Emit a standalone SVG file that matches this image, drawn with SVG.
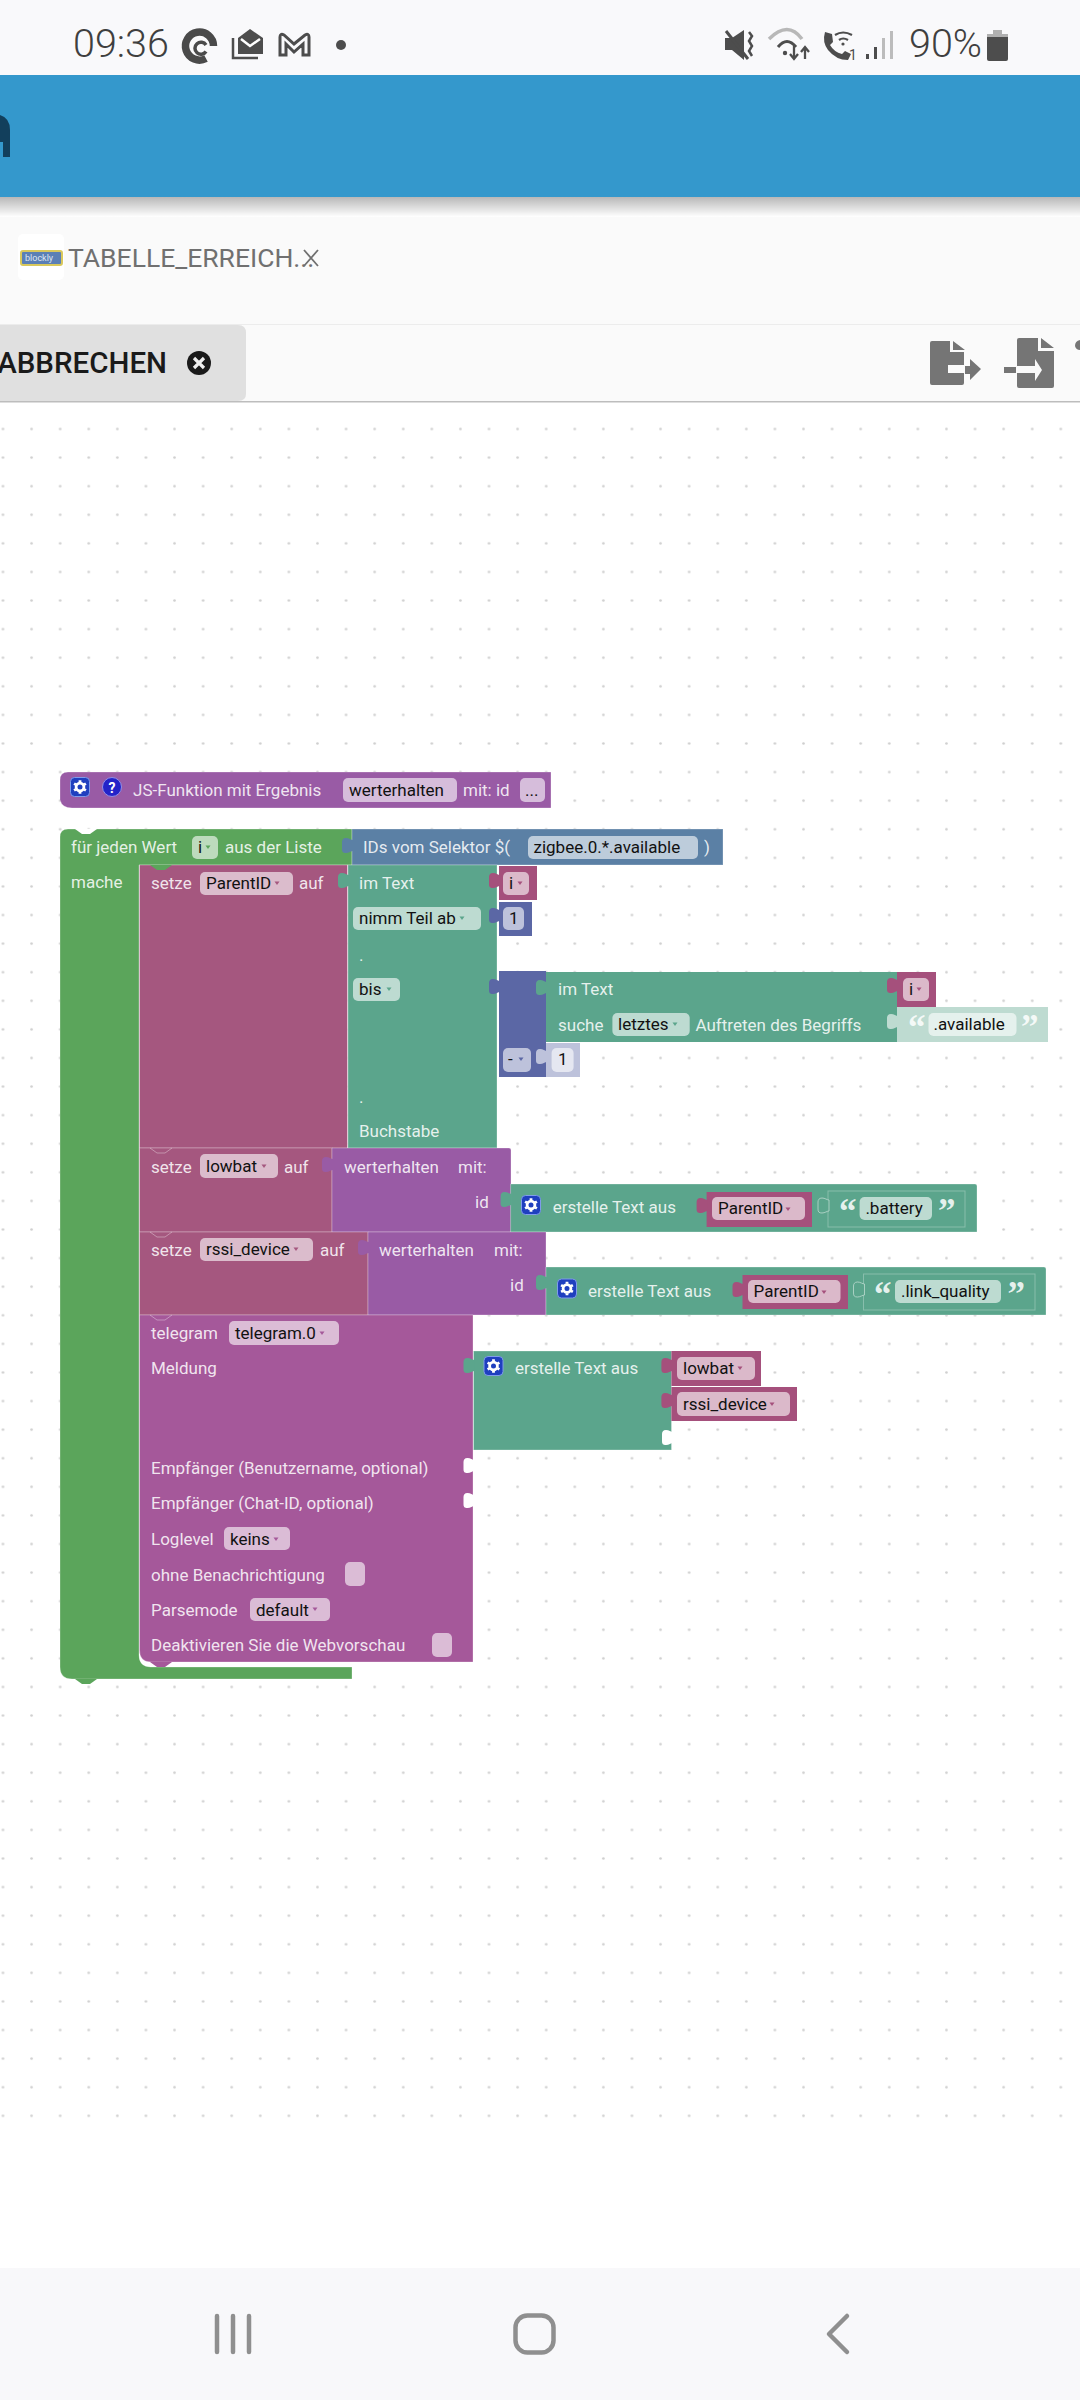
<svg xmlns="http://www.w3.org/2000/svg" width="1080" height="2400" viewBox="0 0 1080 2400">
<style>
text{font-family:Roboto,"Liberation Sans",sans-serif}
.t{font-size:17px;fill:#fff;fill-opacity:.86}
.v{font-size:17px;fill:#111}
.f{fill:#fff;fill-opacity:.6}
.b{stroke:#fff;stroke-opacity:.28;stroke-width:1}
.loop{fill:#5ba55b}.list{fill:#5b80a5}.var{fill:#a5577f}.proc{fill:#995ba5}.txt{fill:#5ba58c}.math{fill:#5b67a5}.tele{fill:#a5589a}.vr{fill:#a5507c}
.q{font-family:"Liberation Serif",serif;font-weight:700;font-size:35px;fill:#fff;fill-opacity:.85}
.ic{fill:#4d4d4d}
.cv{fill:none;stroke:#fff;stroke-opacity:.35;stroke-width:1}
.nav{fill:none;stroke:#8f8f8f;stroke-width:4.5;stroke-linecap:round;stroke-linejoin:round}
</style>
<defs>
<pattern id="grid" patternUnits="userSpaceOnUse" x="-11.3" y="414.7" width="28.59" height="28.59"><circle cx="14.295" cy="14.295" r="1.3" fill="#cfcfcf"/></pattern>
<path id="tab" d="M1 2C-1 2-3 0-6 0C-9 0-10 2-10 4V11C-10 14-9 15-6 15C-3 15-1 13 1 13Z"/>
<path id="dd" d="M-2.500-1.500H2.500L0 2Z"/>
<path id="nt" d="M0 0L7 5H15L22 0Z"/>
<g id="gear"><rect x="-9.500" y="-9.500" width="19" height="19" rx="4" fill="#1f3fbf" stroke="#7f9bea" stroke-width="1"/><circle r="3.900" fill="none" stroke="#fff" stroke-width="2.800"/><path d="M0-6.800V6.800M-5.900-3.400L5.900 3.400M-5.900 3.400L5.900-3.400" stroke="#fff" stroke-width="2.800" stroke-dasharray="2 9.600"/></g>
<linearGradient id="sh" x1="0" y1="0" x2="0" y2="1"><stop offset="0" stop-color="#000" stop-opacity=".28"/><stop offset="1" stop-color="#000" stop-opacity="0"/></linearGradient>
</defs>
<rect width="1080" height="2400" fill="#fff"/>
<rect y="405" width="1080" height="1720" fill="url(#grid)"/>

<g id="status-bar">
<rect width="1080" height="75" fill="#f9f9fb"/>
<text x="73" y="57" font-size="39.500" font-weight="300" fill="#3f3f3f">09:36</text>
<path d="M206 58.500A14 14 0 1 1 213.500 46" fill="none" stroke="#4a4a4a" stroke-width="7.500"/><path d="M206 51.500A6 6 0 1 1 206 45" fill="none" stroke="#4a4a4a" stroke-width="3.500"/>
<path class="ic" d="M238 38L250 29L263 38V54H238Z"/><path d="M241 39L250 46L260 39" fill="none" stroke="#fff" stroke-width="2.500"/><path d="M233 38V58H258" fill="none" stroke="#4d4d4d" stroke-width="2.500"/>
<path d="M280 55V37Q280 33 284 35L294 44L305 35Q309 33 309 37V55H303V44L294 52L286 44V55Z" fill="none" stroke="#4d4d4d" stroke-width="3"/>
<circle cx="341" cy="45" r="5" fill="#4d4d4d"/>
<path class="ic" d="M725 38H732L744 30V60L732 50H725Z"/><path d="M726 31L748 59" stroke="#4d4d4d" stroke-width="3"/><path d="M749 32L752 36L749 41L752 46L749 51L752 56" fill="none" stroke="#4d4d4d" stroke-width="2.500"/>
<path d="M769 39Q788 20 802 39" fill="none" stroke="#b8b8b8" stroke-width="3.500"/><path d="M778 47Q787 36 796 47" fill="none" stroke="#4d4d4d" stroke-width="3"/><circle cx="785" cy="53" r="2.200" fill="#4d4d4d"/><path d="M794 46V58M790 54L794 59L798 54M805 59V48M801 52L805 47L809 52" fill="none" stroke="#4d4d4d" stroke-width="2.300"/>
<path class="ic" d="M825 32L832 34L833 42L830 45Q834 52 842 54L845 51L851 54L848 60Q836 60 828 50Q822 42 825 32Z"/><path d="M835 35Q843 30 852 35M839 40Q843 37 848 40" fill="none" stroke="#4d4d4d" stroke-width="2.200"/><circle cx="843" cy="44" r="1.600" fill="#4d4d4d"/>
<text x="849" y="60" font-size="14" fill="#4d4d4d">1</text>
<rect x="866" y="54" width="3" height="5" fill="#4d4d4d"/><rect x="874" y="47" width="3" height="12" fill="#4d4d4d"/><rect x="882" y="38" width="3" height="21" fill="#bcbcbc"/><rect x="890" y="31" width="3" height="28" fill="#bcbcbc"/>
<text x="909" y="57" font-size="39.500" font-weight="300" fill="#3f3f3f">90%</text>
<path d="M993 30H1002V34H1008V37H987V34H993Z" fill="#b0b0b0"/><path class="ic" d="M987 37H1008V59Q1008 61 1006 61H989Q987 61 987 59Z"/>
</g>

<g id="app-header">
<rect y="75" width="1080" height="122" fill="#3498cc"/>
<rect y="197" width="1080" height="20" fill="url(#sh)"/>
<path d="M0 115Q10 118 10 130V157H3V142H0Z" fill="#123f5c"/>
</g>

<g id="tab-bar">
<rect y="217" width="1080" height="108" fill="#fafafa"/>
<rect x="18" y="234" width="46" height="46" rx="5" fill="#fff"/>
<rect x="21" y="251" width="41" height="14" rx="2" fill="#5b7fb5" stroke="#d9c85c" stroke-width="2"/>
<text x="25" y="261" font-size="9" fill="#dfe6f2">blockly</text>
<text x="68" y="267" font-size="26.500" fill="#707070">TABELLE_ERREICH...</text>
<path d="M304 250L318 266M318 250L304 266" stroke="#707070" stroke-width="1.800"/>
</g>

<g id="toolbar">
<rect y="325" width="1080" height="77" fill="#fafafa"/>
<rect y="324" width="1080" height="1" fill="#ececec"/>
<path d="M0 325H238Q246 325 246 333V394Q246 401 238 401H0Z" fill="#e0e0e0"/>
<rect y="401" width="1080" height="1.500" fill="#bdbdbd"/>
<text x="167" y="373" text-anchor="end" font-size="29.500" font-weight="500" fill="#1a1a1a">ABBRECHEN</text>
<circle cx="199" cy="363" r="12" fill="#1a1a1a"/><path d="M194 358L204 368M204 358L194 368" stroke="#eee" stroke-width="3.200"/>
<path fill="#757575" d="M932 341H950V352H964V365H948V373H964V383Q964 385 962 385H932Q930 385 930 383V343Q930 341 932 341ZM953 341L965 350H953ZM965 366H970V359L981 369L970 380V374H965Z"/>
<path fill="#757575" d="M1019 338H1038V351H1054V386Q1054 388 1052 388H1019Q1017 388 1017 386V373H1035V381L1042 370L1035 359V366H1017V340Q1017 338 1019 338ZM1041 338L1054 348H1041ZM1004 367H1016V373H1004Z"/>
<path d="M1080 340Q1075 341 1075 346Q1076 350 1080 350Z" fill="#757575"/>
</g>

<g id="block-js-function">
<path class="proc b" d="M68 772H551V808H72Q62 808 60 800V780Q60 772 68 772Z"/>
<use href="#gear" x="80" y="787"/>
<circle cx="112" cy="787" r="9.500" fill="#2323c8" stroke="#8f8fe8"/><text x="112" y="793" text-anchor="middle" font-size="14" font-weight="700" fill="#fff">?</text>
<text class="t" x="133" y="796">JS-Funktion mit Ergebnis</text>
<rect class="f" x="343" y="778" width="114" height="24" rx="5"/><text class="v" x="349" y="796">werterhalten</text>
<text class="t" x="463" y="796">mit: id</text>
<rect class="f" x="520" y="778" width="25" height="24" rx="5"/><text class="v" x="525" y="796">...</text>
</g>

<g id="block-for-each">
<path class="loop b" d="M68 829H352V865H139V1655Q139 1667 151 1667H352V1679H72Q60 1679 60 1667V837Q60 829 68 829Z"/>
<use href="#nt" x="75" y="829" fill="#fff"/>
<use href="#nt" x="75" y="1679" fill="#5ba55b"/>
<text class="t" x="71" y="853">für jeden Wert</text>
<rect class="f" x="192" y="836" width="26" height="23" rx="5"/><text class="v" x="198" y="853">i</text><use href="#dd" x="208" y="847" fill="#5ba55b"/>
<text class="t" x="225" y="853">aus der Liste</text>
<text class="t" x="71" y="888">mache</text>
</g>

<g id="block-selector">
<rect class="list b" x="352" y="829" width="371" height="36"/>
<text class="t" x="363" y="853">IDs vom Selektor $(</text>
<rect class="f" x="528" y="836" width="170" height="23" rx="5"/><text class="v" x="533.500" y="853">zigbee.0.*.available</text>
<text class="t" x="704" y="853">)</text>
</g>

<g id="block-set-parentid">
<rect class="var b" x="139.500" y="865" width="208" height="283"/>
<use href="#nt" x="150" y="865" fill="#5ba55b"/>
<text class="t" x="151" y="889">setze</text>
<rect class="f" x="200" y="872" width="93" height="23" rx="5"/><text class="v" x="206" y="889">ParentID</text><use href="#dd" x="277" y="883" fill="#a5577f"/>
<text class="t" x="299" y="889">auf</text>
</g>

<g id="block-substring">
<rect class="txt b" x="348" y="865" width="149" height="283"/>
<text class="t" x="359" y="889">im Text</text>
<rect class="f" x="353" y="907" width="128" height="23" rx="5"/><text class="v" x="359" y="924">nimm Teil ab</text><use href="#dd" x="462" y="918" fill="#5ba58c"/>
<text class="t" x="359" y="961">.</text>
<rect class="f" x="353" y="978" width="47" height="23" rx="5"/><text class="v" x="359" y="995">bis</text><use href="#dd" x="389" y="989" fill="#5ba58c"/>
<text class="t" x="359" y="1103">.</text>
<text class="t" x="359" y="1137">Buchstabe</text>
</g>

<g id="var-i-1">
<rect class="vr" x="499" y="866" width="38" height="34"/>
<rect class="f" x="503" y="872" width="26" height="23" rx="5"/><text class="v" x="509" y="889">i</text><use href="#dd" x="520" y="883" fill="#a5507c"/>
</g>
<g id="num-1">
<rect class="math" x="499" y="902" width="33" height="34"/>
<rect class="f" x="503" y="907" width="21" height="23" rx="5"/><text class="v" x="509" y="924">1</text>
</g>
<g id="block-minus">
<rect class="math" x="499" y="971" width="47" height="106"/>
<rect class="f" x="503" y="1048" width="28" height="24" rx="5"/><text class="v" x="508" y="1065">-</text><use href="#dd" x="521" y="1059" fill="#5b67a5"/>
</g>
<g id="block-indexof">
<rect class="txt" x="546" y="972" width="351" height="70"/>
<text class="t" x="558" y="995">im Text</text>
<text class="t" x="558" y="1031">suche</text>
<rect class="f" x="612.400" y="1013" width="77.300" height="23" rx="5"/><text class="v" x="618" y="1030">letztes</text><use href="#dd" x="675" y="1024" fill="#5ba58c"/>
<text class="t" x="695.500" y="1031">Auftreten des Begriffs</text>
</g>
<g id="var-i-2">
<rect class="vr" x="897" y="972" width="39" height="35"/>
<rect class="f" x="903" y="978" width="26" height="23" rx="5"/><text class="v" x="909" y="995">i</text><use href="#dd" x="919" y="989" fill="#a5507c"/>
</g>
<g id="str-available">
<rect x="897" y="1007" width="151" height="35" fill="#bedbd1"/>
<text class="q" x="908" y="1039">“</text>
<rect class="f" x="928.500" y="1013" width="88" height="23" rx="5"/><text class="v" x="933.500" y="1030">.available</text>
<text class="q" x="1021" y="1039">”</text>
</g>
<g id="num-1b">
<rect x="546" y="1043" width="34" height="34" fill="#bdc2db"/>
<rect class="f" x="551.600" y="1048" width="22" height="24" rx="5"/><text class="v" x="558" y="1065">1</text>
</g>

<g id="block-set-lowbat">
<rect class="var b" x="139.500" y="1148" width="192.500" height="84"/>
<path class="cv" d="M150 1148l7 5h8l7-5"/>
<text class="t" x="151" y="1173">setze</text>
<rect class="f" x="200" y="1154" width="78" height="24" rx="5"/><text class="v" x="206" y="1172">lowbat</text><use href="#dd" x="264" y="1166" fill="#a5577f"/>
<text class="t" x="284" y="1173">auf</text>
</g>
<g id="call-lowbat">
<path class="proc b" d="M332 1148H509Q511 1148 511 1150V1232H332Z"/>
<text class="t" x="344" y="1173">werterhalten</text><text class="t" x="458" y="1173">mit:</text>
<text class="t" x="475" y="1208">id</text>
</g>
<g id="join-battery">
<path class="txt b" d="M510.600 1184H975Q977 1184 977 1186V1232H510.600Z"/>
<use href="#gear" x="531" y="1205"/>
<text class="t" x="552.700" y="1213">erstelle Text aus</text>
<rect class="vr" x="706.600" y="1192" width="105.400" height="35"/>
<rect class="f" x="712" y="1197" width="93" height="23" rx="5"/><text class="v" x="718" y="1214">ParentID</text><use href="#dd" x="788" y="1209" fill="#a5507c"/>
<rect class="txt b" x="828" y="1191" width="137" height="36"/>
<text class="q" x="839" y="1223">“</text>
<rect class="f" x="859.600" y="1197" width="72.400" height="23" rx="5"/><text class="v" x="865.400" y="1214">.battery</text>
<text class="q" x="938" y="1223">”</text>
</g>

<g id="block-set-rssi">
<rect class="var b" x="139.500" y="1232" width="228.500" height="83"/>
<path class="cv" d="M150 1232l7 5h8l7-5"/>
<text class="t" x="151" y="1256">setze</text>
<rect class="f" x="200" y="1238" width="113" height="23" rx="5"/><text class="v" x="206" y="1255">rssi_device</text><use href="#dd" x="296" y="1249" fill="#a5577f"/>
<text class="t" x="320" y="1256">auf</text>
</g>
<g id="call-rssi">
<path class="proc b" d="M368 1232H546V1315H368Z"/>
<text class="t" x="379" y="1256">werterhalten</text><text class="t" x="494" y="1256">mit:</text>
<text class="t" x="510" y="1291">id</text>
</g>
<g id="join-link-quality">
<path class="txt b" d="M546 1267H1044Q1046 1267 1046 1269V1315H546Z"/>
<use href="#gear" x="567" y="1288.500"/>
<text class="t" x="588" y="1297">erstelle Text aus</text>
<rect class="vr" x="742.500" y="1275" width="105.500" height="34"/>
<rect class="f" x="748" y="1280" width="92.500" height="23" rx="5"/><text class="v" x="753.600" y="1297">ParentID</text><use href="#dd" x="824" y="1292" fill="#a5507c"/>
<rect class="txt b" x="863.500" y="1274" width="171.500" height="36"/>
<text class="q" x="874" y="1306">“</text>
<rect class="f" x="895" y="1280" width="106" height="23" rx="5"/><text class="v" x="901" y="1297">.link_quality</text>
<text class="q" x="1007.500" y="1306">”</text>
</g>

<g id="block-telegram">
<path class="tele b" d="M139.500 1315H473V1662H151Q139.500 1662 139.500 1650Z"/>
<path class="cv" d="M150 1315l7 5h8l7-5"/>
<use href="#nt" x="150" y="1662" fill="#a5589a"/>
<text class="t" x="151" y="1339">telegram</text>
<rect class="f" x="229" y="1321" width="110" height="24" rx="5"/><text class="v" x="235" y="1339">telegram.0</text><use href="#dd" x="322" y="1333" fill="#a5589a"/>
<text class="t" x="151" y="1374">Meldung</text>
<text class="t" x="151" y="1474">Empfänger (Benutzername, optional)</text>
<text class="t" x="151" y="1509">Empfänger (Chat-ID, optional)</text>
<text class="t" x="151" y="1545">Loglevel</text>
<rect class="f" x="224" y="1527" width="66" height="23" rx="5"/><text class="v" x="230" y="1545">keins</text><use href="#dd" x="276" y="1539" fill="#a5589a"/>
<text class="t" x="151" y="1581">ohne Benachrichtigung</text>
<rect class="f" x="345" y="1562" width="20" height="24" rx="5"/>
<text class="t" x="151" y="1616">Parsemode</text>
<rect class="f" x="250" y="1598" width="80" height="23" rx="5"/><text class="v" x="256" y="1616">default</text><use href="#dd" x="315" y="1609" fill="#a5589a"/>
<text class="t" x="151" y="1651">Deaktivieren Sie die Webvorschau</text>
<rect class="f" x="432" y="1633" width="20" height="24" rx="5"/>
</g>
<g id="join-message">
<rect class="txt b" x="473.500" y="1351" width="198" height="99"/>
<use href="#gear" x="493.500" y="1366"/>
<text class="t" x="515" y="1374">erstelle Text aus</text>
</g>
<g id="var-lowbat">
<rect class="vr" x="671.400" y="1351" width="89.600" height="35"/>
<rect class="f" x="677" y="1357" width="78" height="23" rx="5"/><text class="v" x="683" y="1374">lowbat</text><use href="#dd" x="740" y="1368" fill="#a5507c"/>
</g>
<g id="var-rssi">
<rect class="vr" x="671.400" y="1387" width="125.600" height="34"/>
<rect class="f" x="677" y="1392" width="113" height="24" rx="5"/><text class="v" x="683" y="1410">rssi_device</text><use href="#dd" x="772" y="1404" fill="#a5507c"/>
</g>

<g id="connectors">
<use href="#tab" x="352" y="838" fill="#5b80a5"/>
<use href="#tab" x="348" y="873" fill="#5ba58c"/>
<use href="#tab" x="499" y="873" fill="#a5507c"/>
<use href="#tab" x="499" y="908" fill="#5b67a5"/>
<use href="#tab" x="499" y="979" fill="#5b67a5"/>
<use href="#tab" x="546" y="980" fill="#5ba58c"/>
<use href="#tab" x="546" y="1049" fill="#bdc2db"/>
<use href="#tab" x="897" y="978" fill="#a5507c"/>
<use href="#tab" x="897" y="1014" fill="#bedbd1"/>
<use href="#tab" x="332" y="1157" fill="#995ba5"/>
<use href="#tab" x="510.600" y="1192" fill="#5ba58c"/>
<use href="#tab" x="706.600" y="1198" fill="#a5507c"/>
<use href="#tab" x="828" y="1198" fill="#5ba58c" stroke="#bedbd1" stroke-width=".8"/>
<use href="#tab" x="368" y="1240" fill="#995ba5"/>
<use href="#tab" x="546" y="1275" fill="#5ba58c"/>
<use href="#tab" x="742.500" y="1282" fill="#a5507c"/>
<use href="#tab" x="863.500" y="1282" fill="#5ba58c" stroke="#bedbd1" stroke-width=".8"/>
<use href="#tab" x="473.500" y="1358" fill="#5ba58c"/>
<use href="#tab" x="671.400" y="1358" fill="#a5507c"/>
<use href="#tab" x="671.400" y="1393" fill="#a5507c"/>
<use href="#tab" x="672" y="1430" fill="#fff"/>
<use href="#tab" x="473.500" y="1458" fill="#fff"/>
<use href="#tab" x="473.500" y="1493" fill="#fff"/>
</g>

<g id="nav-bar">
<rect y="2268" width="1080" height="132" fill="#f8f8fa"/>
<path class="nav" d="M217 2316V2352M233 2316V2352M249 2316V2352"/>
<rect class="nav" x="515.500" y="2315.500" width="38" height="37" rx="12"/>
<path class="nav" d="M847 2316L829 2334L847 2352"/>
</g>
</svg>
